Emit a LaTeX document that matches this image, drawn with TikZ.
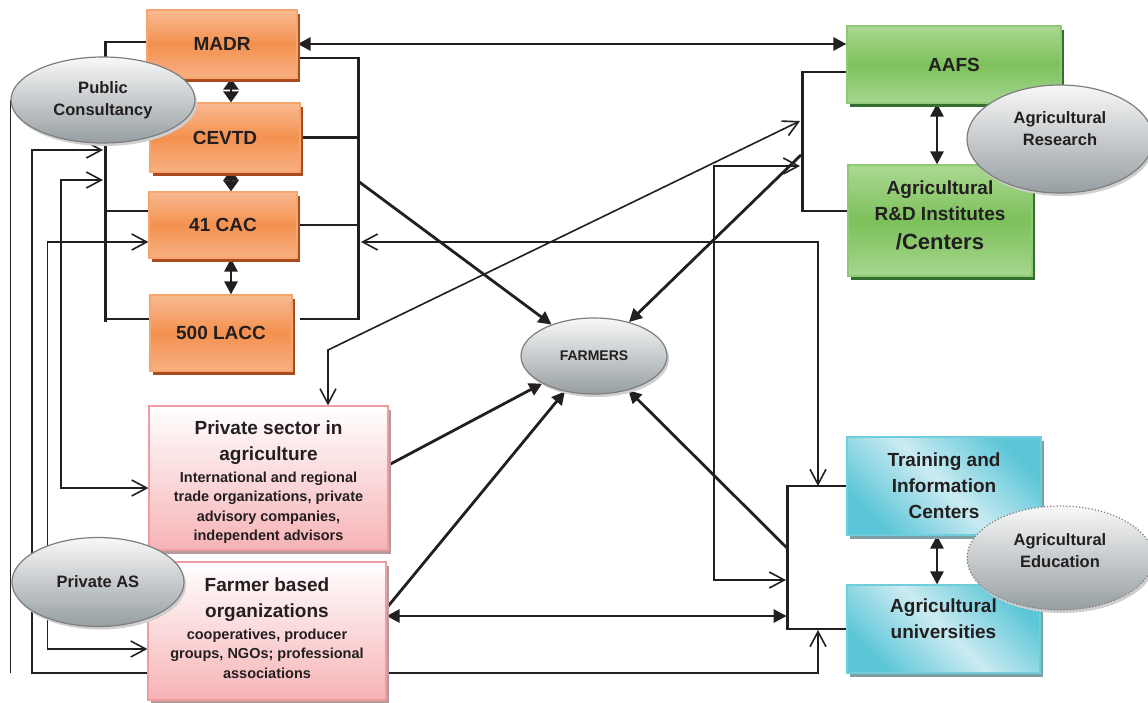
\documentclass[tikz,border=0pt]{standalone}
\usepackage{fontspec}
\setmainfont{Liberation Sans}
\usepackage{tikz}
\usetikzlibrary{arrows.meta,shapes,shadows,backgrounds}

\definecolor{ink}{HTML}{231F20}
\definecolor{orgtop}{HTML}{F9BA92}
\definecolor{orgmid}{HTML}{F3914F}
\definecolor{orgbot}{HTML}{F8B083}
\definecolor{orgrim}{HTML}{F6A56E}
\definecolor{orgshd}{HTML}{A84B1F}
\definecolor{grntop}{HTML}{ABD892}
\definecolor{grnmid}{HTML}{7CC15B}
\definecolor{grnbot}{HTML}{A6D68D}
\definecolor{grnrim}{HTML}{8DC977}
\definecolor{grnshd}{HTML}{356F2F}
\definecolor{pnktop}{HTML}{FFFFFF}
\definecolor{pnkbot}{HTML}{F7B3B6}
\definecolor{pnkrim}{HTML}{F09CA0}
\definecolor{pnkshd}{HTML}{B39B9C}
\definecolor{cyndark}{HTML}{5BC6D7}
\definecolor{cynlite}{HTML}{CBEBF2}
\definecolor{cynrim}{HTML}{70CEDC}
\definecolor{cynshd}{HTML}{7F9FA7}
\definecolor{elltop}{HTML}{F8F8F8}
\definecolor{ellbot}{HTML}{969EA2}
\definecolor{ellrim}{HTML}{7E7E7E}
\definecolor{ellshd}{HTML}{CFCFCF}

\newcommand{\headtxt}{\fontsize{19}{26}\selectfont\bfseries}
\newcommand{\listtxt}{\fontsize{14.5}{19.5}\selectfont\bfseries}
\newcommand{\elltxt}{\fontsize{16.5}{22}\selectfont\bfseries}

\begin{document}
\begin{tikzpicture}[x=1pt,y=-1pt,
  every node/.style={text=ink},
  fhead/.tip={Triangle[length=13pt,width=13pt]},
  dhead/.tip={Triangle[length=11pt,width=15pt]},
  ohead/.tip={Straight Barb[length=15pt,width=16pt]},
  bar/.style={draw=ink, line width=2.8pt},
  wire/.style={draw=ink, line width=1.6pt},
  orgbox/.style={rectangle, draw=orgrim, line width=1.2pt, top color=orgtop, bottom color=orgbot, middle color=orgmid, font=\headtxt, drop shadow={shadow xshift=3pt, shadow yshift=-4pt, fill=orgshd, opacity=1}},
  grnbox/.style={rectangle, draw=grnrim, line width=1.2pt, top color=grntop, bottom color=grnbot, middle color=grnmid, font=\headtxt, align=flush center, drop shadow={shadow xshift=3pt, shadow yshift=-4pt, fill=grnshd, opacity=1}},
  pnkbox/.style={rectangle, draw=pnkrim, line width=1.2pt, top color=pnktop, bottom color=pnkbot, inner sep=2pt, align=flush center, drop shadow={shadow xshift=3pt, shadow yshift=-4pt, fill=pnkshd, opacity=1}},
  cynbox/.style={rectangle, draw=cynrim, line width=1.2pt, left color=cyndark, right color=cyndark, middle color=cynlite, shading angle=135, font=\headtxt, align=flush center, drop shadow={shadow xshift=3pt, shadow yshift=-4pt, fill=cynshd, opacity=1}},
  gryell/.style={ellipse, draw=ellrim, line width=1.2pt, top color=elltop, bottom color=ellbot, inner sep=0pt, font=\elltxt, align=flush center, drop shadow={shadow xshift=2pt, shadow yshift=-3pt, fill=ellshd, opacity=1}},
  elllabel/.style={font=\elltxt, align=flush center},
  boxlabel/.style={font=\headtxt, align=flush center}
]
\useasboundingbox (0,0) rectangle (1148,702);

\node (madr) at (222,44) [orgbox, minimum width=150pt, minimum height=68pt] {MADR};
\node (cevtd) at (225,137.5) [orgbox, minimum width=150pt, minimum height=69pt] {CEVTD};
\node (cac) at (223,225) [orgbox, minimum width=148pt, minimum height=66pt] {41 CAC};
\node (lacc) at (221,333) [orgbox, minimum width=142pt, minimum height=76pt] {500 LACC};

\node (aafs) at (954,64.5) [grnbox, minimum width=214pt, minimum height=77pt] {AAFS};
\node (rnd) at (940,220.5) [grnbox, minimum width=184pt, minimum height=111pt, label={[boxlabel, yshift=5pt]center:Agricultural\\R\&D Institutes\\[3pt]{\fontsize{22}{26}\selectfont /Centers}}] {};

\node (psec) at (268.5,478) [pnkbox, minimum width=239pt, minimum height=144pt, text width=228pt] {{\headtxt\rule{0pt}{22pt}Private sector in\\agriculture\par}\vspace{2pt}{\listtxt International and regional\\trade organizations, private\\advisory companies,\\independent advisors\par}};
\node (fbo) at (267,631) [pnkbox, minimum width=238pt, minimum height=138pt, text width=228pt] {{\headtxt Farmer based\\organizations\par}\vspace{2pt}{\listtxt cooperatives, producer\\groups, NGOs; professional\\associations\par}\vspace{6pt}};

\node (tic) at (944,486) [cynbox, minimum width=194pt, minimum height=98pt] {Training and\\Information\\Centers};
\node (univ) at (943.5,629) [cynbox, minimum width=193pt, minimum height=88pt, label={[boxlabel, yshift=10pt]center:Agricultural\\universities}] {};

\node (pubc) at (103,100) [gryell, minimum width=184pt, minimum height=86pt] {Public\\Consultancy};
\node (privas) at (98,582) [gryell, minimum width=172pt, minimum height=89pt] {Private AS};
\node (farmers) at (594,356) [gryell, minimum width=146pt, minimum height=76pt, font=\fontsize{14}{17}\selectfont\bfseries] {FARMERS};
\node (agres) at (1060,139) [gryell, minimum width=186pt, minimum height=108pt, label={[elllabel, yshift=10pt]center:Agricultural\\Research}] {};
\node (agedu) at (1060,558) [gryell, dotted, minimum width=186pt, minimum height=104pt, label={[elllabel, yshift=7pt]center:Agricultural\\Education}] {};

\begin{scope}[on background layer]
\fill[white] (0,0) rectangle (1148,702);
\coordinate (orgR) at (358,181);
\coordinate (cacR) at (361,242);
\coordinate (ticT) at (818,486);
\coordinate (uniB) at (818,630);
\coordinate (eduL) at (786,580);
\coordinate (eduM) at (787,548);
\coordinate (resA) at (800,121);
\coordinate (resB) at (800,166);
\coordinate (resC) at (801,155);
\coordinate (pubA) at (103,180);
\coordinate (pubB) at (103,150);

\draw[bar] ([yshift=2pt]madr.west) -- ++(-41,0) -- ++(0,280);
\draw[bar] ([yshift=14pt]cac.west) -- ++(-43,0);
\draw[bar] ([yshift=14pt]lacc.west) -- ++(-44,0);
\draw[bar] ([yshift=-14pt]madr.east) -- ++(61,0) |- ([yshift=14pt,xshift=7pt]lacc.east);
\draw[bar] (cevtd.east) -- ++(58,0);
\draw[bar] (cac.east) -- ++(61,0);
\draw[bar] ([yshift=-7.5pt]aafs.west) -- ++(-44,0) |- ([yshift=9.5pt]rnd.west);
\draw[bar] (tic.west) -- ++(-59,0) |- (univ.west);

\draw[bar, dhead-dhead] ([xshift=9pt]madr.south) -- ([xshift=6pt]cevtd.north);
\draw[bar, dhead-dhead] ([xshift=6pt,yshift=3pt]cevtd.south) -- ([xshift=8pt]cac.north);
\draw[bar, fhead-fhead] ([xshift=8pt]cac.south) -- ([xshift=10pt]lacc.north);
\draw[bar, fhead-fhead] ([xshift=-17pt]aafs.south) -- ([xshift=-3pt]rnd.north);
\draw[bar, fhead-fhead] ([xshift=-7pt]tic.south) -- ([xshift=-6.5pt]univ.north);

\draw[bar, fhead-fhead] (madr.east) -- (madr.east -| aafs.west);
\draw[bar, fhead-fhead] ([yshift=15pt]fbo.east) -- ++(400,0);
\draw[bar, -fhead] (orgR) -- (farmers);
\draw[bar, -fhead] (resC) -- (farmers);
\draw[bar, -fhead] ([yshift=13pt]psec.east) -- (farmers);
\draw[bar, -fhead] ([yshift=23pt]fbo.east) -- (farmers);
\draw[bar, -fhead] (eduM) -- (farmers);

\draw[wire, ohead-ohead] (cacR) -| (ticT);
\draw[wire, ohead-ohead] (resB) -- ++(-86,0) |- (eduL);
\draw[wire, ohead-ohead] (resA) -- ++(-472,229) -- ([xshift=59.5pt]psec.north);
\draw[wire, ohead-ohead] (pubA) -- ++(-42,0) |- ([yshift=-10pt]psec.west);
\draw[wire, ohead-ohead] ([yshift=-17pt]cac.west) -- ++(-101,0) |- ([yshift=-18pt]fbo.west);
\draw[wire, ohead-ohead] (pubB) -- ++(-71,0) -- ++(0,523) -| (uniB);
\draw[wire] (pubc.west) -- ++(0,573);
\end{scope}
\end{tikzpicture}
\end{document}
